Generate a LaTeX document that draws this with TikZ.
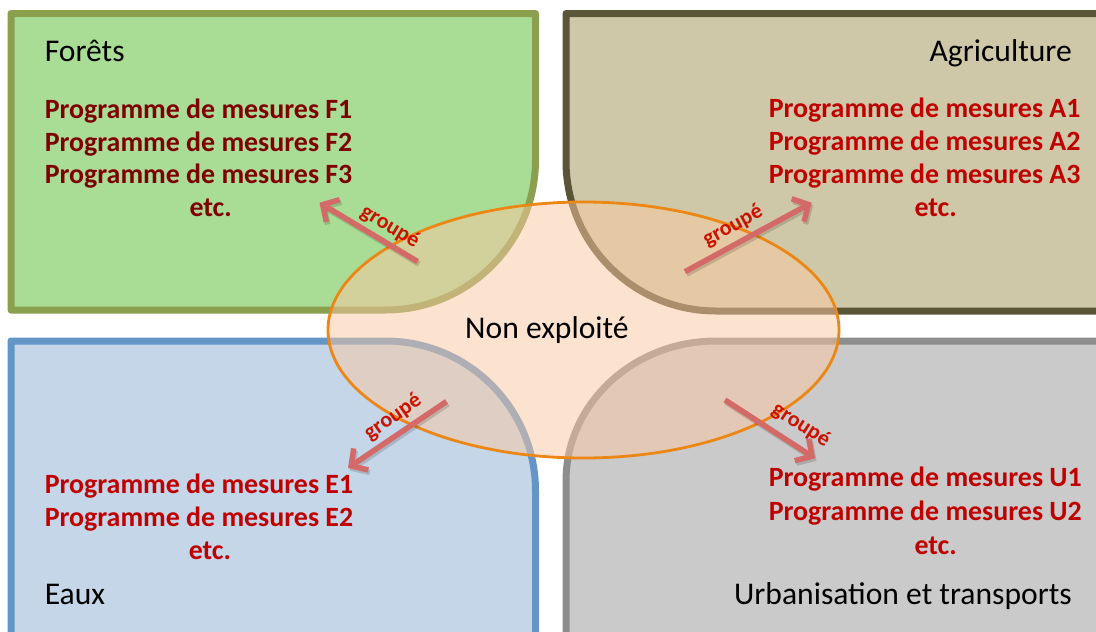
\documentclass[tikz,border=0pt]{standalone}
\usepackage{fontspec}
\setmainfont{Carlito}
\usetikzlibrary{arrows.meta,shapes.geometric}
\definecolor{gfill}{HTML}{A9DC95}
\definecolor{gline}{HTML}{8AA04F}
\definecolor{bfill}{HTML}{CFC8A8}
\definecolor{bline}{HTML}{5B5537}
\definecolor{wfill}{HTML}{C4D6E7}
\definecolor{wline}{HTML}{6395C7}
\definecolor{ufill}{HTML}{CACACA}
\definecolor{uline}{HTML}{8D8D8D}
\definecolor{peach}{HTML}{FBC8A2}
\definecolor{orangeline}{HTML}{EC8614}
\definecolor{arrowred}{HTML}{D46A68}
\definecolor{labelred}{HTML}{CC1100}
\definecolor{progred}{HTML}{C00000}
\definecolor{progdark}{HTML}{7F0000}
\begin{document}
\begin{tikzpicture}[x=1pt,y=-1pt,
  quad/.style={line width=7pt, line join=round},
  title/.style={font=\fontsize{31.6}{36}\selectfont, text=black, inner sep=0pt},
  prog/.style={font=\fontsize{27.9}{33}\selectfont\bfseries, inner sep=0pt, anchor=base west},
  glabel/.style={font=\fontsize{22}{22}\selectfont\bfseries, text=labelred, inner sep=0pt},
  grarrow/.style={draw=arrowred, line width=5.5pt, -{Straight Barb[length=12pt,width=26pt]}},
  shadowarrow/.style={draw=black, opacity=0.15, line width=5.5pt, -{Straight Barb[length=12pt,width=26pt]}},
  centre/.style={ellipse, draw=orangeline, line width=2.8pt, fill=peach, fill opacity=0.5, minimum width=511pt, minimum height=256pt, inner sep=0pt}
]
\useasboundingbox (0,0) rectangle (1096,632);
\clip (0,0) rectangle (1096,632);
\fill[white] (0,0) rectangle (1096,632);

% quadrants
\draw[quad, fill=gfill, draw=gline] (11,310) -- (11,13.5) -- (535.5,13.5) -- (535.5,160)
  .. controls (535.5,242.8) and (468.3,310) .. (385.5,310) -- cycle;
\draw[quad, fill=bfill, draw=bline] (716,311) .. controls (633.2,311) and (566,243.8) .. (566,161)
  -- (566,13.5) -- (1120,13.5) -- (1120,311) -- cycle;
\draw[quad, fill=wfill, draw=wline] (385.5,341) .. controls (468.3,341) and (535.5,408.2) .. (535.5,491)
  -- (535.5,660) -- (11,660) -- (11,341) -- cycle;
\draw[quad, fill=ufill, draw=uline] (566,481) .. controls (566,403.7) and (633.2,341) .. (716,341)
  -- (1120,341) -- (1120,660) -- (566,660) -- cycle;

% titles
\node[title, anchor=base west] (tf) at (44.6,61) {Forêts};
\node[title, anchor=base east] (ta) at (1072,61) {Agriculture};
\node[title, anchor=base west] (te) at (44.6,604.3) {Eaux};
\node[title, anchor=base east] (tu) at (1072,604.3) {Urbanisation et transports};

% programme texts
\node[prog, text=progdark] (f1) at (44.6,118.3) {Programme de mesures F1};
\node[prog, text=progdark] (f2) at (44.6,151) {Programme de mesures F2};
\node[prog, text=progdark] (f3) at (44.6,183.6) {Programme de mesures F3};
\node[prog, text=progdark] (f4) at (189.3,216.7) {etc.};

\node[prog, text=progred] (a1) at (768.6,117.5) {Programme de mesures A1};
\node[prog, text=progred] (a2) at (768.6,150.3) {Programme de mesures A2};
\node[prog, text=progred] (a3) at (768.6,183) {Programme de mesures A3};
\node[prog, text=progred] (a4) at (914.3,216.7) {etc.};

\node[prog, text=progred] (e1) at (44.6,493.3) {Programme de mesures E1};
\node[prog, text=progred] (e2) at (44.6,526.7) {Programme de mesures E2};
\node[prog, text=progred] (e3) at (188.6,559.3) {etc.};

\node[prog, text=progred] (u1) at (768.6,486.7) {Programme de mesures U1};
\node[prog, text=progred] (u2) at (768.6,520.7) {Programme de mesures U2};
\node[prog, text=progred] (u3) at (914.3,554.3) {etc.};

% central ellipse
\node[centre] (ne) at (583.5,330) {};
\node[title, anchor=base west] (net) at (465,338.3) {Non exploité};

% arrows
\coordinate (gt) at (417.5,261.5); \coordinate (gh) at (319.5,202.7);
\coordinate (bt) at (685,271.7);   \coordinate (bh) at (811.7,202.7);
\coordinate (wt) at (446.5,401.5); \coordinate (wh) at (348,468);
\coordinate (ut) at (725,400);     \coordinate (uh) at (815,458.3);

\foreach \t/\h in {gt/gh, bt/bh, wt/wh, ut/uh}{
  \draw[shadowarrow] ([shift={(1.5,2.5)}]\t) -- ([shift={(1.5,2.5)}]\h);
}
\draw[grarrow] (gt) -- (gh);
\draw[grarrow] (bt) -- (bh);
\draw[grarrow] (wt) -- (wh);
\draw[grarrow] (ut) -- (uh);

% labels
\node[glabel, rotate=-31] (lg) at (390,227) {groupé};
\node[glabel, rotate=28.6] (lb) at (733,226) {groupé};
\node[glabel, rotate=34.8] (lw) at (393,417) {groupé};
\node[glabel, rotate=-32.8] (lu) at (801,425) {groupé};
\end{tikzpicture}
\end{document}
